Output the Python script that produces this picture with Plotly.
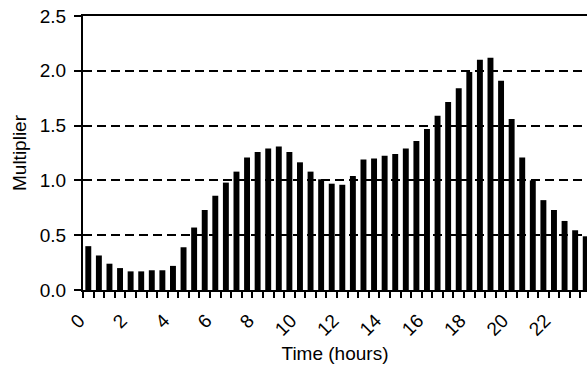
import plotly.graph_objects as go

hours = [i * 0.5 for i in range(48)]
multiplier = [
    0.40, 0.315, 0.24, 0.20, 0.17, 0.17, 0.18, 0.18, 0.22, 0.39, 0.57, 0.73,
    0.86, 0.98, 1.08, 1.21, 1.26, 1.29, 1.31, 1.26, 1.165, 1.08, 1.01, 0.97,
    0.96, 1.04, 1.19, 1.20, 1.225, 1.24, 1.29, 1.36, 1.47, 1.59, 1.715, 1.84,
    1.99, 2.10, 2.12, 1.91, 1.56, 1.21, 1.00, 0.82, 0.73, 0.63, 0.545, 0.49,
]
x_tick_vals = [0, 2, 4, 6, 8, 10, 12, 14, 16, 18, 20, 22]
x_tick_text = ["0", "2", "4", "6", "8", "10", "12", "14", "16", "18", "20", "22"]
y_tick_vals = [0.0, 0.5, 1.0, 1.5, 2.0, 2.5]
y_tick_text = ["0.0", "0.5", "1.0", "1.5", "2.0", "2.5"]

FONT = "Liberation Sans, Arial, sans-serif"

fig = go.Figure()
fig.add_trace(go.Bar(x=hours, y=multiplier, marker=dict(color="black", line=dict(width=0)),
                     showlegend=False))

fig.update_layout(
    width=587, height=376,
    margin=dict(l=83, r=0, t=16, b=86),
    paper_bgcolor="white", plot_bgcolor="white",
    bargap=0.44,
    font=dict(family=FONT, size=19, color="black"),
    xaxis=dict(
        range=[-0.25, 23.56], automargin=False,
        tickvals=x_tick_vals, ticktext=x_tick_text,
        tickangle=-45, ticks="", showgrid=False, zeroline=False,
        ticklabelshift=-9, ticklabelstandoff=10,
        showline=True, linecolor="black", linewidth=2, mirror=True,
        minor=dict(ticks="outside", tick0=-0.25, dtick=0.5, ticklen=6,
                   tickwidth=2, tickcolor="black", showgrid=False),
        title=dict(text="Time (hours)", font=dict(size=19), standoff=8),
        tickfont=dict(size=19),
    ),
    yaxis=dict(
        range=[0, 2.5], automargin=False,
        tickvals=y_tick_vals, ticktext=y_tick_text,
        ticks="outside", ticklen=7, tickwidth=2, tickcolor="black",
        ticklabelstandoff=4,
        showline=True, linecolor="black", linewidth=2,
        showgrid=True, gridcolor="black", gridwidth=2, griddash="9px,5px",
        zeroline=False,
        title=dict(text="Multiplier", font=dict(size=19), standoff=8),
        tickfont=dict(size=19),
    ),
)

fig.write_html(
    "out.html",
    config={"displayModeBar": False},
    post_script="document.body.style.margin='0';document.body.style.overflow='hidden';",
)
